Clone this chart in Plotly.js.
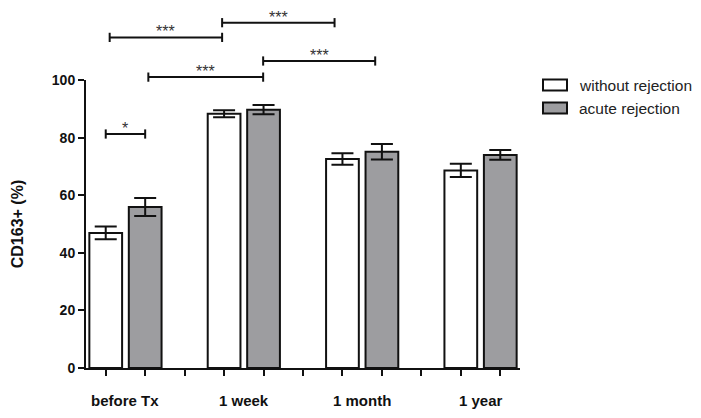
<!DOCTYPE html>
<html>
<head>
<meta charset="utf-8">
<script src="https://cdn.plot.ly/plotly-3.0.1.min.js"></script>
<style>html,body{margin:0;padding:0;background:#fff;}#chart{width:701px;height:418px;}</style>
</head>
<body>
<div id="chart"></div>
<script>
// ---- data ----
var categories = ["before Tx", "1 week", "1 month", "1 year"];
var seriesNames = ["without rejection", "acute rejection"];
var withoutRejection = [46.9, 88.3, 72.6, 68.6];
var withoutRejectionErr = [2.2, 1.2, 2.0, 2.3];
var acuteRejection = [55.9, 89.7, 75.1, 74.0];
var acuteRejectionErr = [3.1, 1.6, 2.7, 1.7];
var yTicks = [0, 20, 40, 60, 80, 100];
// significance brackets: [start slot, end slot, height (%), label]
var bracketStart = [0, 0.1, 2.95, 1.08, 3.99];
var bracketEnd = [1, 2.95, 5.8, 3.99, 6.83];
var bracketLevel = [81.25, 114.8, 119.9, 101.0, 106.6];
var bracketLabel = ["*", "***", "***", "***", "***"];

// ---- layout helpers ----
var slotsPerGroup = 3;
var yMax = 100;
var seriesColors = ["#ffffff", "#9d9da0"];
var xWhite = categories.map(function (c, i) { return i * slotsPerGroup; });
var xGrey = categories.map(function (c, i) { return i * slotsPerGroup + 1; });
var groupCenters = categories.map(function (c, i) { return i * slotsPerGroup + 0.5; });
var nSlots = categories.length * slotsPerGroup - 1;
var slotTicks = [];
for (var s = 0; s < nSlots; s++) slotTicks.push(s);

var W = 701, H = 418, M = {l: 86, r: 181, t: 80, b: 50};
var plotW = W - M.l - M.r, plotH = H - M.t - M.b;
function px2x(px) { return (px - M.l) / plotW; }
function py2y(py) { return (H - M.b - py) / plotH; }

var font = "Liberation Sans, Arial, sans-serif";
var errStyle = {type: "data", visible: true, color: "#111", thickness: 2, width: 11};

var traces = [
  {
    type: "bar", name: seriesNames[0], x: xWhite, y: withoutRejection,
    width: 0.83,
    marker: {color: seriesColors[0], line: {color: "#111", width: 2}},
    error_y: Object.assign({array: withoutRejectionErr}, errStyle)
  },
  {
    type: "bar", name: seriesNames[1], x: xGrey, y: acuteRejection,
    width: 0.83,
    marker: {color: seriesColors[1], line: {color: "#111", width: 2}},
    error_y: Object.assign({array: acuteRejectionErr}, errStyle)
  }
];

var shapes = [];
var annotations = [];
var tickHalf = 0.016;
for (var b = 0; b < bracketLabel.length; b++) {
  var py = bracketLevel[b] / yMax;
  shapes.push({type: "line", xref: "x", yref: "paper", x0: bracketStart[b], x1: bracketEnd[b], y0: py, y1: py, line: {color: "#111", width: 2}});
  shapes.push({type: "line", xref: "x", yref: "paper", x0: bracketStart[b], x1: bracketStart[b], y0: py - tickHalf, y1: py + tickHalf, line: {color: "#111", width: 2}});
  shapes.push({type: "line", xref: "x", yref: "paper", x0: bracketEnd[b], x1: bracketEnd[b], y0: py - tickHalf, y1: py + tickHalf, line: {color: "#111", width: 2}});
  annotations.push({xref: "x", yref: "paper", x: (bracketStart[b] + bracketEnd[b]) / 2, y: py, yshift: -5,
    text: bracketLabel[b], showarrow: false, yanchor: "bottom", font: {family: font, size: 16, color: "#333"}});
}
categories.forEach(function (c, i) {
  annotations.push({xref: "x", yref: "paper", x: groupCenters[i], y: 0, yshift: -32, text: c,
    showarrow: false, yanchor: "middle", font: {family: font, size: 15, color: "#111", weight: "bold"}});
});

// manual legend (rectangle swatches + text)
var legBoxL = 543, legBoxR = 567, legRowY = [85, 108], legBoxH = 11, legTextX = 577;
seriesNames.forEach(function (n, i) {
  var x0 = px2x(legBoxL), x1 = px2x(legBoxR), y0 = py2y(legRowY[i] + legBoxH / 2), y1 = py2y(legRowY[i] - legBoxH / 2);
  shapes.push({type: "rect", xref: "paper", yref: "paper", x0: x0, x1: x1, y0: y0, y1: y1,
    fillcolor: seriesColors[i], line: {color: "#111", width: 2}});
  annotations.push({xref: "paper", yref: "paper", x: px2x(legTextX), y: py2y(legRowY[i]), xanchor: "left", yanchor: "middle",
    text: n, showarrow: false, font: {family: font, size: 15.5, color: "#222"}});
});

var layout = {
  width: W, height: H,
  margin: M,
  paper_bgcolor: "#fff", plot_bgcolor: "#fff",
  showlegend: false,
  bargap: 0,
  xaxis: {
    range: [-0.5, nSlots - 0.5], tickmode: "array", tickvals: slotTicks, showticklabels: false,
    ticks: "outside", ticklen: 6, tickwidth: 2, tickcolor: "#111",
    showline: true, linecolor: "#111", linewidth: 2, showgrid: false, zeroline: false, fixedrange: true
  },
  yaxis: {
    range: [0, yMax], tickmode: "array", tickvals: yTicks,
    ticks: "outside", ticklen: 6, tickwidth: 2, tickcolor: "#111",
    tickfont: {family: font, size: 14, color: "#111", weight: "bold"},
    showline: true, linecolor: "#111", linewidth: 2, showgrid: false, zeroline: false,
    title: {text: "CD163+ (%)", font: {family: font, size: 16, color: "#111", weight: "bold"}, standoff: 24}
  },
  shapes: shapes,
  annotations: annotations
};

Plotly.newPlot("chart", traces, layout, {displayModeBar: false, staticPlot: true});
</script>
</body>
</html>
